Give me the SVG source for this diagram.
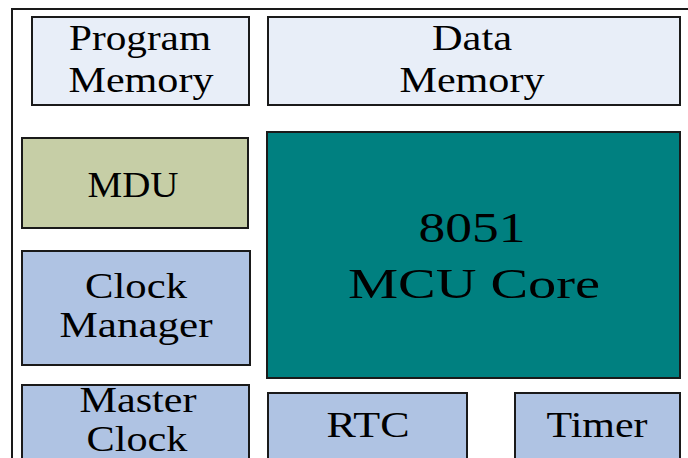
<svg xmlns="http://www.w3.org/2000/svg" width="688" height="458" viewBox="0 0 688 458">
<style>
.box{stroke:#1a1a1a;stroke-width:2}
.mem{fill:#e8eef8}
.mdu{fill:#c6cea6}
.blue{fill:#afc3e3}
.core{fill:#008080}
.t{font-size:35px}
.big{font-size:43px}
</style>
<rect width="688" height="458" fill="#ffffff"/>
<g id="frame"><path d="M12 460 V9 H690" fill="none" stroke="#1a1a1a" stroke-width="2"/></g>
<g font-family="'Liberation Serif', 'Times New Roman', Times, serif" text-anchor="middle" fill="#000">
<g id="program-memory"><rect class="box mem" x="32" y="17" width="217" height="88"/>
<text class="t" x="140" y="50" textLength="142" lengthAdjust="spacingAndGlyphs">Program</text>
<text class="t" x="141" y="92" textLength="145" lengthAdjust="spacingAndGlyphs">Memory</text></g>
<g id="data-memory"><rect class="box mem" x="268" y="17" width="412" height="88"/>
<text class="t" x="472" y="50" textLength="80" lengthAdjust="spacingAndGlyphs">Data</text>
<text class="t" x="472" y="92" textLength="145" lengthAdjust="spacingAndGlyphs">Memory</text></g>
<g id="mdu"><rect class="box mdu" x="22" y="138" width="226" height="90"/>
<text class="t" x="133" y="197" textLength="91" lengthAdjust="spacingAndGlyphs">MDU</text></g>
<g id="core"><rect class="box core" x="267" y="132" width="413" height="246"/>
<text class="big" x="472" y="242" textLength="107" lengthAdjust="spacingAndGlyphs">8051</text>
<text class="big" x="474" y="298" textLength="252" lengthAdjust="spacingAndGlyphs">MCU Core</text></g>
<g id="clock-manager"><rect class="box blue" x="22" y="251" width="228" height="114"/>
<text class="t" x="136" y="298" textLength="102" lengthAdjust="spacingAndGlyphs">Clock</text>
<text class="t" x="136" y="337" textLength="153" lengthAdjust="spacingAndGlyphs">Manager</text></g>
<g id="master-clock"><rect class="box blue" x="22" y="385" width="227" height="90"/>
<text class="t" x="138" y="412" textLength="117" lengthAdjust="spacingAndGlyphs">Master</text>
<text class="t" x="137" y="451" textLength="101" lengthAdjust="spacingAndGlyphs">Clock</text></g>
<g id="rtc"><rect class="box blue" x="268" y="393" width="199" height="80"/>
<text class="t" x="368" y="437" textLength="83" lengthAdjust="spacingAndGlyphs">RTC</text></g>
<g id="timer"><rect class="box blue" x="515" y="393" width="165" height="80"/>
<text class="t" x="597" y="437" textLength="101" lengthAdjust="spacingAndGlyphs">Timer</text></g>
</g>
<g id="connectors"></g>
</svg>
